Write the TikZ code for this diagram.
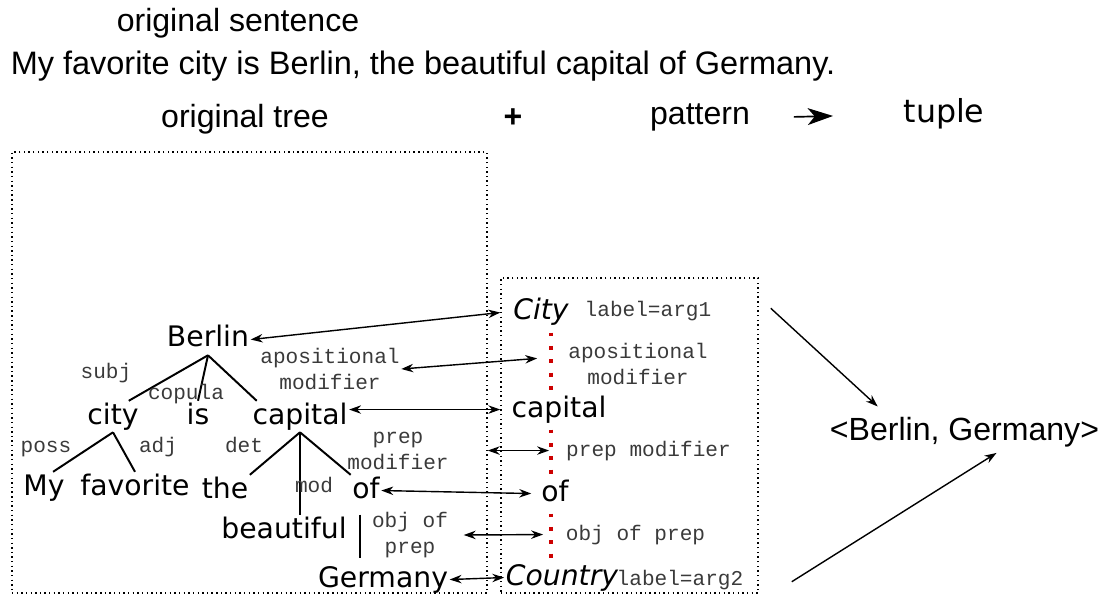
\documentclass[tikz,border=0pt]{standalone}
\usepackage{fontspec}
\setmainfont{Liberation Sans}
\newfontfamily\treefont{DejaVu Sans}
\newfontfamily\relfont{Liberation Mono}
\usetikzlibrary{arrows.meta,positioning}
\definecolor{ptrouge}{HTML}{CC0000}
\definecolor{relgris}{HTML}{3A3A3A}

\begin{document}
\begin{tikzpicture}[x=0.025cm,y=-0.025cm,
  title/.style={font=\fontsize{22.8}{27}\selectfont,inner sep=0pt,anchor=base},
  word/.style={font=\treefont\fontsize{20.1}{24}\selectfont,inner sep=1pt,
    text height=15.3pt,text depth=4.7pt,anchor=base},
  slot/.style={word,font=\treefont\itshape\fontsize{20.1}{24}\selectfont},
  rel/.style={font=\relfont\fontsize{15}{18.5}\selectfont,text=relgris,inner sep=1pt,align=center},
  dotbox/.style={draw,line width=1pt,dash pattern=on 1pt off 2.3pt,inner sep=0pt},
  branch/.style={line width=1.4pt},
  link/.style={{Stealth[length=8.5pt,width=6pt]}-{Stealth[length=8.5pt,width=6pt]},line width=1pt},
  feed/.style={-{Stealth[length=8.5pt,width=6pt]},line width=1pt},
  reddots/.style={ptrouge,line width=2.8pt,dash pattern=on 2.8pt off 6.7pt,
    shorten <=3pt,shorten >=3pt}]
  \useasboundingbox (0,0) rectangle (1103,596);
  % en-tetes
  \node[title] (hsent) at (238,32) {original sentence};
  \node[title,font=\fontsize{23.1}{27}\selectfont] (sent) at (423,75) {My favorite city is Berlin, the beautiful capital of Germany.};
  \node[title] (htree) at (245,128) {original tree};
  \node[title] (hplus) at (513,128) {\textbf{+}};
  \node[title] (hpattern) at (700,125) {pattern};
  \node[title,font=\treefont\fontsize{22.5}{27}\selectfont] (htuple) at (944,123) {tuple};
  \draw[-{Stealth[length=18pt,width=12pt,inset=5pt]},line width=1.2pt,
    shorten <=31pt,shorten >=50pt] (hpattern.east) -- (htuple.west);
  % cadres
  \node[dotbox,minimum width=11.875cm,minimum height=11.025cm] (tbox) at (249.5,372.5) {};
  \node[dotbox,minimum width=6.425cm,minimum height=7.875cm] (patbox) at (629.5,435.5) {};
  % arbre
  \node[word] (tberlin) at (208,347) {Berlin};
  \node[word] (tcity) at (113,424) {city};
  \node[word] (tis) at (198,424) {is};
  \node[word] (tcap) at (300,424) {capital};
  \node[word] (tmy) at (44,495) {My};
  \node[word] (tfav) at (135,495) {favorite};
  \node[word] (tthe) at (225,498) {the};
  \node[word] (tof) at (366,498) {of};
  \node[word] (tbeau) at (284,538) {beautiful};
  \node[word] (tger) at (383,587) {Germany};
  \draw[branch] (tberlin.south) -- (tcity.45);
  \draw[branch] (tberlin.south) -- (tis.north);
  \draw[branch] (tberlin.south) -- (tcap.160);
  \draw[branch] (tcity.south) -- (tmy.60);
  \draw[branch] (tcity.south) -- (tfav.north);
  \draw[branch] (tcap.south) -- (tthe.north east);
  \draw[branch] (tcap.south) -- (tcap.south |- tbeau.north);
  \draw[branch] (tcap.south) -- (tof.north west);
  \draw[branch,shorten <=6pt,shorten >=4pt] (tof.250) -- (tof.250 |- tger.north);
  % relations
  \node[rel,anchor=base] (lsubj) at (106,378) {subj};
  \node[rel,anchor=base] (lcop) at (186,399) {copula};
  \node[rel,anchor=base] (lposs) at (46,452) {poss};
  \node[rel,anchor=base] (ladj) at (158,452) {adj};
  \node[rel,anchor=base] (ldet) at (244,452) {det};
  \node[rel,anchor=base] (lmod) at (314,492) {mod};
  \node[rel] (tapos) at (330,369) {apositional\\modifier};
  \node[rel] (tprep) at (398,451) {prep\\modifier};
  \node[rel] (tobj) at (410,535) {obj of\\prep};
  % motif
  \coordinate (spine) at (551,0);
  \node[slot] (pcity) at (541,320) {City};
  \node[rel,anchor=base] (plab1) at (648,317) {label=arg1};
  \node[rel] (papos) at (638,364) {apositional\\modifier};
  \node[word] (pcap) at (559,417) {capital};
  \node[rel,anchor=base] (pprep) at (648.5,456) {prep modifier};
  \node[word] (pof) at (555,501) {of};
  \node[rel,anchor=base] (pobj) at (635.5,540) {obj of prep};
  \node[slot] (pcountry) at (562,585) {Country};
  \node[rel,anchor=base] (plab2) at (680,585) {label=arg2};
  \draw[reddots] (pcity.south -| spine) -- (pcap.north -| spine);
  \draw[reddots] (pcap.south -| spine) -- (pof.north -| spine);
  \draw[reddots] (pof.south -| spine) -- (pcountry.north -| spine);
  % correspondances arbre / motif
  \draw[link] (tberlin.east) -- (pcity.west -| patbox.west);
  \draw[link] (tapos.east) -- ([xshift=-21pt,yshift=4pt]papos.west);
  \draw[link] (tcap.east |- pcap.west) -- (pcap.west -| patbox.west);
  \draw[link] (pprep.west -| tbox.east) -- ([xshift=-11pt]pprep.west);
  \draw[link] (tof.east) -- ([xshift=-6pt]pof.west);
  \draw[link] ([xshift=10pt]tobj.east) -- ([xshift=-15pt]pobj.west);
  \draw[link] (tger.east) -- (pcountry.west);
  % tuple
  \node[title] (tuple) at (964.5,440) {<Berlin, Germany>};
  \draw[feed] ([shift={(12,31)}]patbox.north east) -- ([shift={(48,-10)}]tuple.north west);
  \draw[feed] ([shift={(33,-12)}]patbox.south east) -- ([shift={(32,6)}]tuple.south);
\end{tikzpicture}
\end{document}
